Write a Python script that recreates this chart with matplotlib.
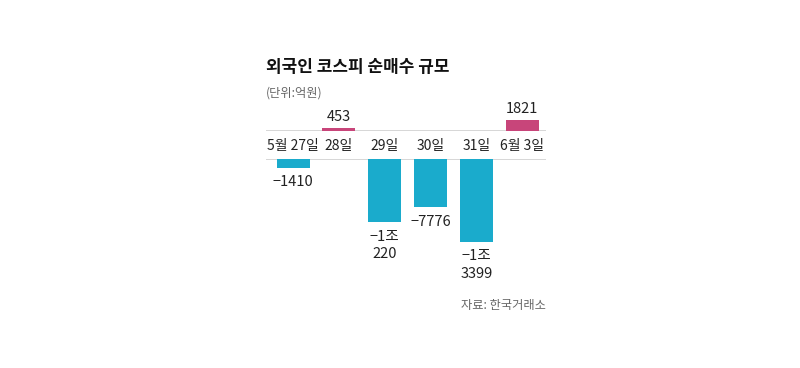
import matplotlib
matplotlib.use("Agg")
import matplotlib.pyplot as plt
from matplotlib.transforms import blended_transform_factory

plt.rcParams['font.family'] = ['Noto Sans CJK KR', 'DejaVu Sans']

categories = ["5월 27일", "28일", "29일", "30일", "31일", "6월 3일"]
values = [-1410, 453, -10220, -7776, -13399, 1821]
title = "외국인 코스피 순매수 규모"
unit = "(단위:억원)"
source = "자료: 한국거래소"

POS = "#c8457a"
NEG = "#1aabcc"
LINE = "#cfcfcf"
TXT = "#222222"
GRAY = "#666666"

W, H = 800, 368
fig = plt.figure(figsize=(W / 100, H / 100), dpi=100)
fig.patch.set_facecolor("white")

per_px = 162.0
x0, x1 = 266, 546
xlim = (-0.59, 5.52)

def frac(px_top, px_bot):
    return 1 - px_bot / H, (px_bot - px_top) / H

# top axes (positive)
b, h = frac(95, 131)
ax_top = fig.add_axes([x0 / W, b, (x1 - x0) / W, h])
ax_top.set_xlim(*xlim)
ax_top.set_ylim(0, (131 - 95) * per_px)
# bottom axes (negative)
b2, h2 = frac(159, 310)
ax_bot = fig.add_axes([x0 / W, b2, (x1 - x0) / W, h2])
ax_bot.set_xlim(*xlim)
ax_bot.set_ylim(-(310 - 159) * per_px, 0)

for ax in (ax_top, ax_bot):
    ax.axis("off")
    ax.axhline(0, color=LINE, lw=1.2, zorder=1)

xs = list(range(len(categories)))
bw = 0.72
for x, v in zip(xs, values):
    if v > 0:
        ax_top.bar(x, v, width=bw, color=POS, zorder=2)
        ax_top.annotate(f"{v}", (x, v), xytext=(0, 3), textcoords="offset points",
                        ha="center", va="bottom", fontsize=10.5, color=TXT,
                        fontweight="medium")
    else:
        a = -v
        if a >= 10000:
            lab = f"\u22121조\n{a % 10000}"
        else:
            lab = f"\u2212{a}"
        ax_bot.bar(x, v, width=bw, color=NEG, zorder=2)
        ax_bot.annotate(lab, (x, v), xytext=(0, -5.5), textcoords="offset points",
                        ha="center", va="top", fontsize=10.5, color=TXT,
                        linespacing=1.3)

# date labels
tr = blended_transform_factory(ax_top.transData, fig.transFigure)
for x, c in zip(xs, categories):
    fig.text(x, 1 - 146 / H, c, transform=tr, ha="center", va="center",
             fontsize=10, color=TXT)

fig.text(x0 / W, 1 - 67 / H, title, ha="left", va="center", fontsize=12.2,
         fontweight="bold", color="#111111")
fig.text(x0 / W, 1 - 93 / H, unit, ha="left", va="center", fontsize=8.8,
         color=GRAY)
fig.text(x1 / W, 1 - 305 / H, source, ha="right", va="center", fontsize=8.8,
         color=GRAY)

fig.savefig("out.png", dpi=100, facecolor="white")
